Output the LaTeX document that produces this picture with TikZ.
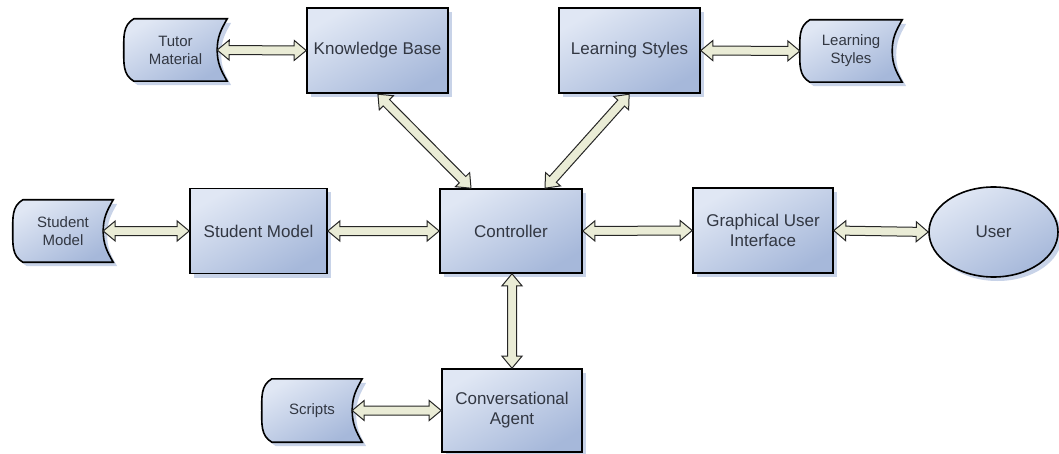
\documentclass[tikz,border=0pt]{standalone}
\usepackage{fontspec}
\setmainfont{Liberation Sans}
\usetikzlibrary{calc,shadows,backgrounds,shapes.geometric}

\definecolor{boxlight}{RGB}{224,231,244}
\definecolor{boxdark}{RGB}{166,184,218}
\definecolor{shadowblue}{RGB}{200,211,232}
\definecolor{linkfill}{RGB}{234,236,214}
\definecolor{labeltext}{RGB}{50,55,66}

\tikzset{
	module/.style={draw=black, line width=1.6pt, top color=boxlight, bottom color=boxdark, shading angle=30,
		drop shadow={shadow xshift=4pt, shadow yshift=-4pt, fill=shadowblue, opacity=1},
		text=labeltext, align=center, font=\fontsize{17}{20}\selectfont},
	datastore/.style={inner sep=0pt, text=labeltext, align=center, font=\fontsize{15}{18}\selectfont},
	storeline/.style={draw=black, line width=1.6pt, top color=boxlight, bottom color=boxdark, shading angle=30,
		drop shadow={shadow xshift=4pt, shadow yshift=-4pt, fill=shadowblue, opacity=1}},
	fatlink/.pic={
		\draw[draw=black!85, fill=linkfill, line width=1pt]
			(0,0) -- (12pt,10pt) -- (12pt,4.5pt) -- ({#1-12pt},4.5pt) -- ({#1-12pt},10pt) -- (#1,0)
			-- ({#1-12pt},-10pt) -- ({#1-12pt},-4.5pt) -- (12pt,-4.5pt) -- (12pt,-10pt) -- cycle;
	}
}

% double headed fat arrow from one anchor to another
\newcommand{\biarrow}[2]{%
	\path let \p1=(#1), \p2=(#2), \n1={atan2(\y2-\y1,\x2-\x1)}, \n2={veclen(\x2-\x1,\y2-\y1)}
		in (\p1) pic[rotate=\n1] {fatlink=\n2};
}

\begin{document}
\begin{tikzpicture}[x=1pt, y=1pt]
		\useasboundingbox (0,0) rectangle (1059,453);
		
		% MODULES
		\node[module, minimum width=141pt, minimum height=85pt] (kb) at (377.5,402.5) {Knowledge Base};
		\node[module, minimum width=141pt, minimum height=85pt] (lstyles) at (629.5,402.5) {Learning Styles};
		\node[module, minimum width=137pt, minimum height=85pt] (smodel) at (258.5,222) {Student Model};
		\node[module, minimum width=142pt, minimum height=84pt] (ctrl) at (511,222) {Controller};
		\node[module, minimum width=140pt, minimum height=85pt] (gui) at (763,222.5) {Graphical User\\Interface};
		\node[module, minimum width=140pt, minimum height=83pt] (agent) at (512,42.5) {Conversational\\Agent};
		\node[module, ellipse, minimum width=129pt, minimum height=90pt] (user) at (993.5,221) {User};
		
		% DATA STORES
		\node[datastore, minimum width=103pt, minimum height=62pt] (tutor) at (175.5,403) {Tutor\\Material};
		\node[datastore, minimum width=102pt, minimum height=62pt] (lsdata) at (851,402) {Learning\\Styles};
		\node[datastore, minimum width=100pt, minimum height=62pt] (smdata) at (63,222) {Student\\Model};
		\node[datastore, minimum width=100pt, minimum height=63pt] (scripts) at (312,42.5) {Scripts};
		
		\begin{pgfonlayer}{background}
		\foreach \s in {tutor,lsdata,smdata,scripts}
			\path[storeline] ([xshift=10pt]\s.north west) -- (\s.north east)
				to[out=-120,in=90] ([xshift=-10pt]\s.east) to[out=-90,in=120] (\s.south east)
				-- ([xshift=10pt]\s.south west) to[out=150,in=-90] (\s.west)
				to[out=90,in=-150] ([xshift=10pt]\s.north west) -- cycle;
		\end{pgfonlayer}
		
		% ARROWS
		\biarrow{[xshift=-10pt]tutor.east}{kb.west}
		\biarrow{lstyles.east}{lsdata.west}
		\biarrow{[xshift=-10pt]smdata.east}{smodel.west}
		\biarrow{smodel.east}{ctrl.west}
		\biarrow{ctrl.east}{gui.west}
		\biarrow{gui.east}{user.west}
		\biarrow{[xshift=-40pt]ctrl.north}{kb.south}
		\biarrow{[xshift=34pt]ctrl.north}{lstyles.south}
		\biarrow{agent.north}{agent.north |- ctrl.south}
		\biarrow{[xshift=-10pt]scripts.east}{agent.west}
\end{tikzpicture}
\end{document}
